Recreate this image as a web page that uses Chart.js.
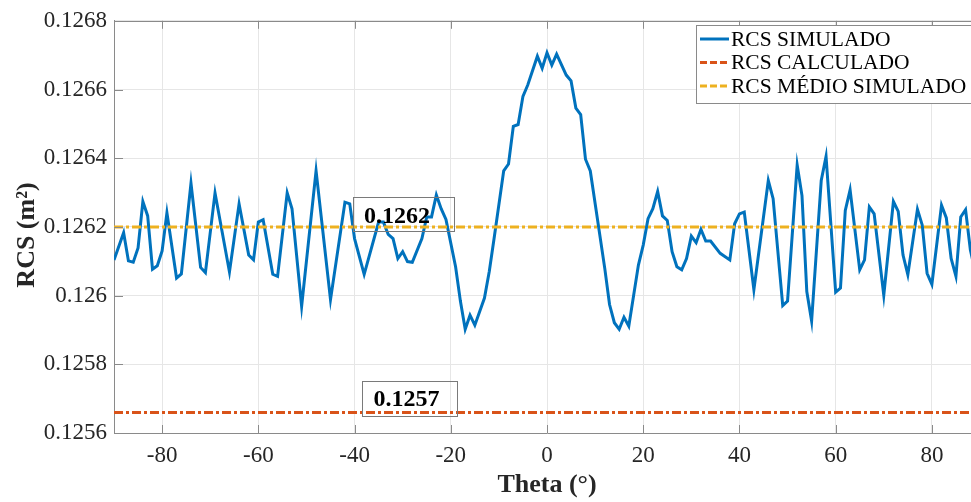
<!DOCTYPE html>
<html>
<head>
<meta charset="utf-8">
<title>RCS x Theta</title>
<script src="https://cdn.jsdelivr.net/npm/chart.js@4"></script>
<style>
    html, body { margin: 0; padding: 0; background: #fff; overflow: hidden; }
    #wrap { width: 981px; height: 502px; }
</style>
</head>
<body>
<div id="wrap"><canvas id="rcsChart" width="981" height="502"></canvas></div>
<script>
// Angles (deg) and simulated RCS (m²)
const theta = [
    -90, -88, -87, -86, -85, -84, -83, -82, -81, -80, -79, -77, -76, -74, -72, -71,
    -69, -66, -64, -62, -61, -60, -59, -57, -56, -54, -53, -51, -48, -45, -42, -41,
    -40, -38, -35, -34, -33, -32, -31, -30, -29, -28, -26, -25, -24, -23, -22, -21,
    -19, -18, -17, -16, -15, -13, -12, -11, -9, -8, -7, -6, -5, -4, -2, -1,
    0, 1, 2, 4, 5, 6, 7, 8, 9, 12, 13, 14, 15, 16, 17, 19,
    20, 21, 22, 23, 24, 25, 26, 27, 28, 29, 30, 31, 32, 33, 34, 36,
    38, 39, 40, 41, 43, 46, 47, 49, 50, 52, 53, 54, 55, 57, 58, 60,
    61, 62, 63, 65, 66, 67, 68, 70, 72, 73, 74, 75, 77, 78, 79, 80,
    82, 83, 84, 85, 86, 87, 88, 89, 90
];
const rcsSimulado = [
    0.126104, 0.126183, 0.126101, 0.126097, 0.126139, 0.126274, 0.126232, 0.126077,
    0.126087, 0.126130, 0.126241, 0.126051, 0.126063, 0.126327, 0.126082, 0.126067,
    0.126299, 0.126069, 0.126267, 0.126118, 0.126104, 0.126214, 0.126221, 0.126062,
    0.126056, 0.126299, 0.126253, 0.125969, 0.126363, 0.125988, 0.126272, 0.126267,
    0.126166, 0.126062, 0.126214, 0.126214, 0.126178, 0.126166, 0.126108, 0.126128,
    0.126099, 0.126097, 0.126166, 0.126229, 0.126229, 0.126293, 0.126253, 0.126222,
    0.126084, 0.125984, 0.125902, 0.125943, 0.125914, 0.125993, 0.126070, 0.126166,
    0.126363, 0.126383, 0.126493, 0.126498, 0.126580, 0.126613, 0.126697, 0.126662,
    0.126707, 0.126671, 0.126703, 0.126642, 0.126625, 0.126546, 0.126527, 0.126397,
    0.126363, 0.126080, 0.125974, 0.125921, 0.125902, 0.125937, 0.125911, 0.126089,
    0.126147, 0.126224, 0.126253, 0.126303, 0.126232, 0.126219, 0.126128, 0.126084,
    0.126075, 0.126108, 0.126173, 0.126154, 0.126193, 0.126159, 0.126159, 0.126123,
    0.126104, 0.126209, 0.126238, 0.126243, 0.126017, 0.126335, 0.126282, 0.125971,
    0.125984, 0.126380, 0.126291, 0.126012, 0.125926, 0.126335, 0.126405, 0.126010,
    0.126022, 0.126248, 0.126308, 0.126075, 0.126104, 0.126258, 0.126238, 0.126001,
    0.126274, 0.126245, 0.126118, 0.126061, 0.126251, 0.126205, 0.126065, 0.126033,
    0.126263, 0.126226, 0.126108, 0.126056, 0.126229, 0.126250, 0.126133, 0.126070,
    0.126040
];
const rcsCalculado = 0.12566;
const rcsMedio = 0.12620;

const xTicks = [-80, -60, -40, -20, 0, 20, 40, 60, 80];
const yTicks = [0.1256, 0.1258, 0.126, 0.1262, 0.1264, 0.1266, 0.1268];

const seriesNames = ['RCS SIMULADO', 'RCS CALCULADO', 'RCS MÉDIO SIMULADO'];
const seriesColors = ['#0072BD', '#D95319', '#EDB120'];
const dashDot = [9, 3, 3, 3];

const serif = "'Liberation Serif', 'Times New Roman', serif";
const axisColor = '#8a8a8a';
const textColor = '#262626';

Chart.defaults.font.family = serif;
Chart.defaults.color = textColor;

// inward ticks, top border, value boxes, legend and y label
const overlay = {
    id: 'overlay',
    afterDraw(chart) {
        const { ctx, chartArea: a, scales: { x, y } } = chart;
        ctx.save();

        ctx.strokeStyle = axisColor;
        ctx.lineWidth = 1;
        ctx.beginPath();
        xTicks.forEach(t => {
            const px = Math.round(x.getPixelForValue(t)) + 0.5;
            ctx.moveTo(px, a.bottom); ctx.lineTo(px, a.bottom - 8);
            ctx.moveTo(px, a.top); ctx.lineTo(px, a.top + 8);
        });
        yTicks.forEach(t => {
            const py = Math.round(y.getPixelForValue(t)) + 0.5;
            ctx.moveTo(a.left, py); ctx.lineTo(a.left + 9, py);
        });
        ctx.moveTo(a.left, Math.round(a.top) + 0.5);
        ctx.lineTo(a.right, Math.round(a.top) + 0.5);
        ctx.stroke();

        // value boxes
        const boxes = [
            { v: rcsMedio, dx: -1.5, dy: -30, w: 101, h: 34, tx: 11, ty: -4 },
            { v: rcsCalculado, dx: 7, dy: -31.5, w: 95, h: 35, tx: 12, ty: -6.5 }
        ];
        ctx.font = 'bold 24px ' + serif;
        ctx.textBaseline = 'alphabetic';
        ctx.textAlign = 'left';
        boxes.forEach(b => {
            const px = x.getPixelForValue(-40);
            const py = y.getPixelForValue(b.v);
            ctx.strokeStyle = '#7a7a7a';
            ctx.strokeRect(Math.round(px + b.dx) + 0.5, Math.round(py + b.dy) + 0.5, b.w, b.h);
            ctx.fillStyle = '#000';
            ctx.fillText(b.v.toFixed(4), px + b.dx + b.tx, py + b.ty);
        });

        // legend
        const lx = 696.5, ly = 25.5;
        ctx.fillStyle = '#fff';
        ctx.fillRect(lx, ly, 290, 78);
        ctx.strokeStyle = '#8a8a8a';
        ctx.strokeRect(lx, ly, 290, 78);
        ctx.font = '21.5px ' + serif;
        ctx.textBaseline = 'middle';
        seriesNames.forEach((name, i) => {
            const ry = 39 + i * 23.5;
            ctx.strokeStyle = seriesColors[i];
            ctx.lineWidth = 3;
            ctx.setLineDash(i === 0 ? [] : [7, 3]);
            ctx.beginPath();
            ctx.moveTo(700, ry); ctx.lineTo(729, ry);
            ctx.stroke();
            ctx.setLineDash([]);
            ctx.fillStyle = '#000';
            ctx.fillText(name, 731, ry + 1);
        });

        // y axis label
        ctx.translate(27, 235);
        ctx.rotate(-Math.PI / 2);
        ctx.textAlign = 'center';
        ctx.fillStyle = textColor;
        ctx.font = 'bold 26px ' + serif;
        ctx.fillText('RCS (m²)', 0, 0);

        ctx.restore();
    }
};

const ctx = document.getElementById('rcsChart').getContext('2d');
const rcsChart = new Chart(ctx, {
    type: 'line',
    data: {
        datasets: [{
            label: seriesNames[0],
            data: theta.map((t, i) => ({ x: t, y: rcsSimulado[i] })),
            borderColor: seriesColors[0],
            borderWidth: 3,
            order: 1
        }, {
            label: seriesNames[1],
            data: [{ x: -90, y: rcsCalculado }, { x: 90, y: rcsCalculado }],
            borderColor: seriesColors[1],
            borderWidth: 3,
            borderDash: dashDot,
            order: 2
        }, {
            label: seriesNames[2],
            data: [{ x: -90, y: rcsMedio }, { x: 90, y: rcsMedio }],
            borderColor: seriesColors[2],
            borderWidth: 3,
            borderDash: dashDot,
            order: 0
        }]
    },
    options: {
        responsive: false,
        animation: false,
        layout: { padding: { top: 17, right: 1, left: 0, bottom: 0 } },
        elements: { point: { radius: 0 }, line: { tension: 0 } },
        plugins: { legend: { display: false }, tooltip: { enabled: false } },
        scales: {
            x: {
                type: 'linear',
                min: -90,
                max: 90,
                afterBuildTicks: s => { s.ticks = xTicks.map(v => ({ value: v })); },
                afterFit: s => { s.height = 69; },
                grid: { color: '#e6e6e6', drawTicks: false },
                border: { color: axisColor },
                ticks: { font: { size: 23 }, color: textColor, padding: 9, maxRotation: 0 },
                title: {
                    display: true,
                    text: 'Theta (°)',
                    font: { size: 26, weight: 'bold' },
                    color: textColor,
                    padding: { top: 0, bottom: 1 }
                }
            },
            y: {
                min: 0.1256,
                max: 0.1268,
                afterBuildTicks: s => { s.ticks = yTicks.map(v => ({ value: v })); },
                afterFit: s => { s.width = 114; },
                grid: { color: '#e6e6e6', drawTicks: false },
                border: { color: axisColor },
                ticks: {
                    font: { size: 23 },
                    color: textColor,
                    padding: 7,
                    callback: v => String(+v.toFixed(4))
                }
            }
        }
    },
    plugins: [overlay]
});
</script>
</body>
</html>
